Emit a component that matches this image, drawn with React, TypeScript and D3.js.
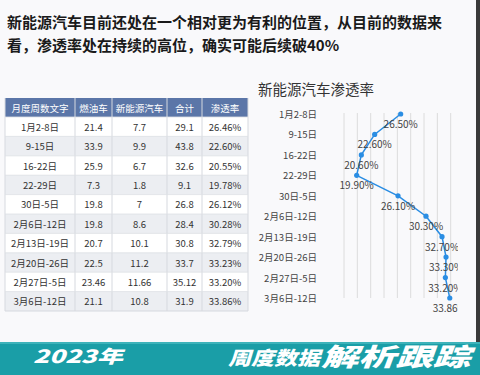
import React from 'react';
import * as d3 from 'd3';

// table + chart data
const weeks = ['1月2-8日', '9-15日', '16-22日', '22-29日', '30日-5日', '2月6日-12日', '2月13日-19日', '2月20日-26日', '2月27日-5日', '3月6日-12日'];
const headers = ['月度周数文字', '燃油车', '新能源汽车', '合计', '渗透率'];
const fuel = ['21.4', '33.9', '25.9', '7.3', '19.8', '19.8', '20.7', '22.5', '23.46', '21.1'];
const nev = ['7.7', '9.9', '6.7', '1.8', '7', '8.6', '10.1', '11.2', '11.66', '10.8'];
const total = ['29.1', '43.8', '32.6', '9.1', '26.8', '28.4', '30.8', '33.7', '35.12', '31.9'];
const rate = ['26.46%', '22.60%', '20.55%', '19.78%', '26.12%', '30.28%', '32.79%', '33.23%', '33.20%', '33.86%'];

// chart series (as plotted, rounded)
const penetration = [26.5, 22.6, 20.6, 19.9, 26.1, 30.3, 32.7, 33.3, 33.2, 33.86];

const FONT = '"Noto Sans CJK SC", "Noto Sans", sans-serif';
const W = 480;
const H = 375;

export default function App() {
  // table layout
  const colEdges = [5, 75, 112, 167, 202, 248];
  const headTop = 98;
  const rowY = d3.scaleBand<string>().domain(weeks).range([117, 311]);
  const columns = [weeks, fuel, nev, total, rate];

  // chart scales
  const x = d3.scaleLinear().domain([18, 34]).range([344, 450.7]);
  const y = d3.scalePoint<string>().domain(weeks).range([114, 298]);
  const pts = weeks.map((w, i) => ({ w, v: penetration[i] }));
  const line = d3
    .line<{ w: string; v: number }>()
    .x(d => x(d.v))
    .y(d => y(d.w) as number);

  return (
    <svg
      width={W}
      height={H}
      style={{ position: 'absolute', left: 0, top: 0, fontFamily: FONT }}
    >
      <defs>
        <clipPath id="lblclip">
          <rect x={0} y={0} width={458} height={H} />
        </clipPath>
      </defs>
      <rect width={W} height={H} fill="#f9f9fb" />
      <rect x={476} y={0} width={4} height={342} fill="#3a3a3a" />

      {/* headline */}
      <text x={7} y={28} fontSize={15} fontWeight={700} fill="#1a1a1a">
        新能源汽车目前还处在一个相对更为有利的位置，从目前的数据来
      </text>
      <text x={7} y={51} fontSize={15} fontWeight={700} fill="#1a1a1a">
        看，渗透率处在持续的高位，确实可能后续破40%
      </text>

      {/* table */}
      <rect x={colEdges[0]} y={headTop} width={colEdges[5] - colEdges[0]} height={117 - headTop} fill="#5b76a8" />
      {headers.map((h, c) => (
        <text
          key={h}
          x={(colEdges[c] + colEdges[c + 1]) / 2}
          y={(headTop + 117) / 2}
          textAnchor="middle"
          dominantBaseline="central"
          fontSize={9.5}
          fill="#fff"
        >
          {h}
        </text>
      ))}
      {weeks.map((w, r) => (
        <g key={w}>
          <rect
            x={colEdges[0]}
            y={rowY(w)}
            width={colEdges[5] - colEdges[0]}
            height={rowY.bandwidth()}
            fill={r % 2 === 0 ? '#ffffff' : '#eceef2'}
          />
          {columns.map((col, c) => (
            <text
              key={c}
              x={(colEdges[c] + colEdges[c + 1]) / 2}
              y={(rowY(w) as number) + rowY.bandwidth() / 2}
              textAnchor="middle"
              dominantBaseline="central"
              fontSize={9.5}
              fill="#333"
            >
              {col[r]}
            </text>
          ))}
        </g>
      ))}
      {colEdges.map((cx, i) => (
        <line key={i} x1={cx} x2={cx} y1={headTop} y2={311} stroke="#d6d9df" strokeWidth={1} />
      ))}
      {weeks.map(w => (
        <line key={w} x1={colEdges[0]} x2={colEdges[5]} y1={rowY(w)} y2={rowY(w)} stroke="#dde0e5" strokeWidth={0.8} />
      ))}
      <line x1={colEdges[0]} x2={colEdges[5]} y1={311} y2={311} stroke="#d6d9df" />

      {/* chart */}
      <text x={258} y={95} fontSize={14.5} fill="#333">新能源汽车渗透率</text>
      {x.ticks(8).map(t => (
        <line key={t} x1={x(t)} x2={x(t)} y1={113} y2={298} stroke="#dcdcdc" strokeWidth={1} />
      ))}
      {weeks.map(w => (
        <text key={w} x={317} y={y(w)} textAnchor="end" dominantBaseline="central" fontSize={9.5} fill="#444">
          {w}
        </text>
      ))}
      <path d={line(pts) ?? ''} fill="none" stroke="#2a8de3" strokeWidth={1.5} />
      {pts.map(p => (
        <circle key={p.w} cx={x(p.v)} cy={y(p.w)} r={2.6} fill="#2a8de3" />
      ))}
      <g clipPath="url(#lblclip)">
        {pts.map(p => (
          <text
            key={p.w}
            x={x(p.v)}
            y={(y(p.w) as number) + 14}
            textAnchor="middle"
            fontSize={10}
            fill="#444"
          >
            {p.v.toFixed(2)}%
          </text>
        ))}
      </g>

      {/* banner */}
      <rect x={0} y={342} width={W} height={H - 342} fill="#1a9ea7" />
      <rect x={0} y={342} width={W} height={2} fill="#3db3ba" />
      <text x={33} y={363} fontSize={18} fontWeight={900} fontStyle="italic" fill="#fff" textLength={90} lengthAdjust="spacingAndGlyphs">
        2023年
      </text>
      <text x={228} y={365} fontSize={19} fontWeight={900} fontStyle="italic" fill="#fff" textLength={92} lengthAdjust="spacingAndGlyphs">
        周度数据
      </text>
      <text x={321} y={366} fontSize={25} fontWeight={900} fontStyle="italic" fill="#fff" textLength={149} lengthAdjust="spacingAndGlyphs">
        解析跟踪
      </text>
    </svg>
  );
}
